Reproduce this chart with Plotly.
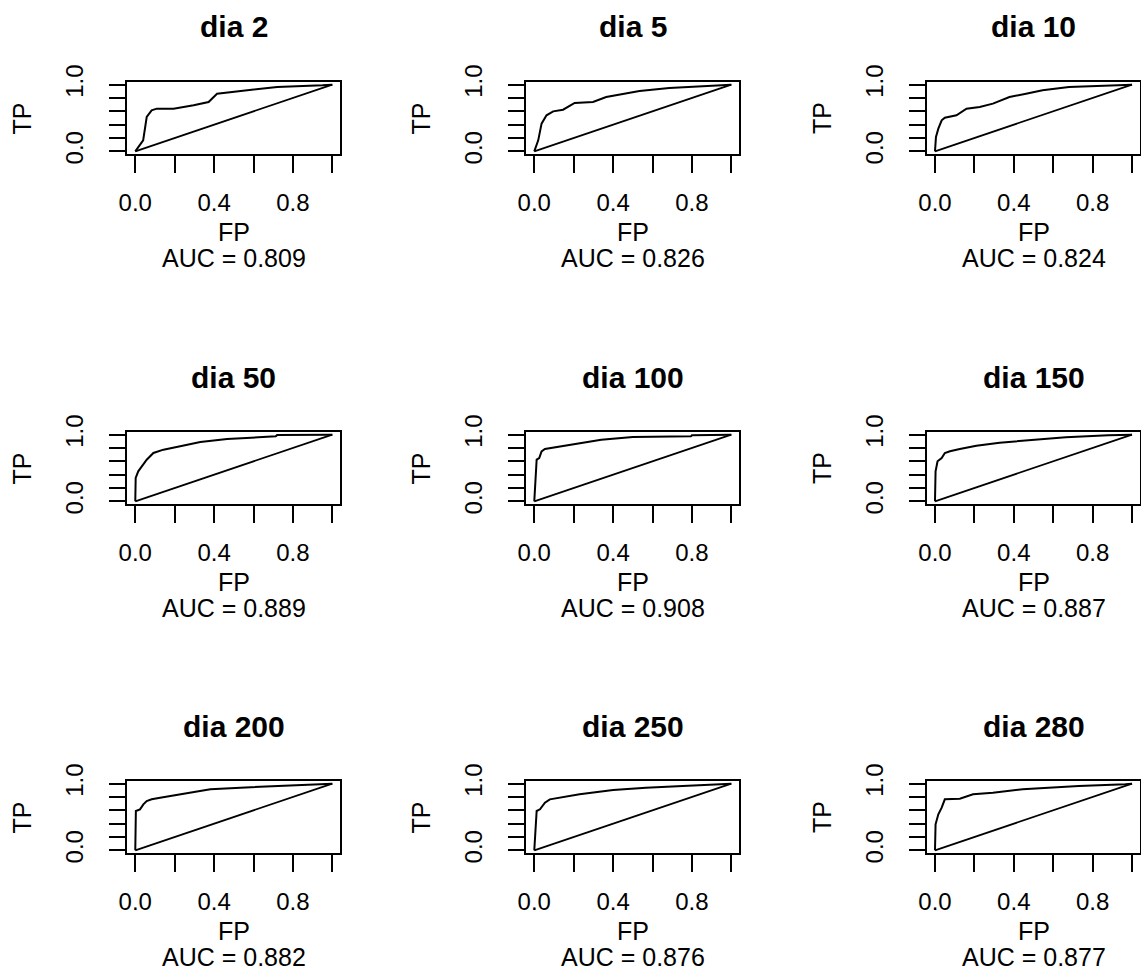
import plotly.graph_objects as go

titles = ["dia 2", "dia 5", "dia 10", "dia 50", "dia 100", "dia 150", "dia 200", "dia 250", "dia 280"]
auc = ["0.809", "0.826", "0.824", "0.889", "0.908", "0.887", "0.882", "0.876", "0.877"]

fp_d2 = [0, 0.04, 0.058, 0.083, 0.109, 0.194, 0.296, 0.372, 0.415, 0.5, 0.568, 0.72, 0.95, 1.0]
tp_d2 = [0, 0.165, 0.515, 0.615, 0.64, 0.64, 0.69, 0.74, 0.865, 0.89, 0.915, 0.965, 0.99, 1.0]

fp_d5 = [0, 0.02, 0.037, 0.062, 0.096, 0.146, 0.205, 0.298, 0.365, 0.433, 0.534, 0.685, 0.82, 1.0]
tp_d5 = [0, 0.165, 0.415, 0.54, 0.6, 0.625, 0.725, 0.74, 0.815, 0.855, 0.905, 0.95, 0.975, 1.0]

fp_d10 = [0, 0.005, 0.017, 0.034, 0.05, 0.109, 0.16, 0.227, 0.294, 0.378, 0.462, 0.546, 0.68, 0.8, 1.0]
tp_d10 = [0, 0.215, 0.34, 0.465, 0.505, 0.54, 0.64, 0.665, 0.715, 0.815, 0.865, 0.915, 0.965, 0.98, 1.0]

fp_d50 = [0, 0.002, 0.015, 0.032, 0.058, 0.092, 0.143, 0.228, 0.33, 0.466, 0.713, 0.72, 1.0]
tp_d50 = [0, 0.35, 0.45, 0.525, 0.625, 0.725, 0.775, 0.825, 0.89, 0.935, 0.975, 0.995, 1.0]

fp_d100 = [0, 0.003, 0.012, 0.025, 0.037, 0.054, 0.13, 0.23, 0.34, 0.5, 0.795, 0.8, 1.0]
tp_d100 = [0, 0.2, 0.625, 0.65, 0.75, 0.785, 0.825, 0.875, 0.925, 0.965, 0.975, 0.99, 1.0]

fp_d150 = [0, 0.003, 0.013, 0.034, 0.05, 0.076, 0.126, 0.21, 0.328, 0.496, 0.664, 0.88, 1.0]
tp_d150 = [0, 0.45, 0.6, 0.65, 0.725, 0.75, 0.785, 0.835, 0.88, 0.92, 0.96, 0.99, 1.0]

fp_d200 = [0, 0.003, 0.024, 0.041, 0.058, 0.083, 0.126, 0.194, 0.279, 0.381, 0.534, 0.721, 0.942, 1.0]
tp_d200 = [0, 0.59, 0.615, 0.69, 0.74, 0.765, 0.79, 0.825, 0.865, 0.915, 0.94, 0.965, 0.99, 1.0]

fp_d250 = [0, 0.003, 0.012, 0.029, 0.054, 0.079, 0.13, 0.23, 0.4, 0.567, 0.753, 0.92, 1.0]
tp_d250 = [0, 0.165, 0.59, 0.615, 0.715, 0.765, 0.79, 0.84, 0.905, 0.94, 0.965, 0.99, 1.0]

fp_d280 = [0, 0.003, 0.017, 0.034, 0.05, 0.126, 0.193, 0.294, 0.445, 0.58, 0.73, 0.966, 1.0]
tp_d280 = [0, 0.39, 0.54, 0.64, 0.765, 0.775, 0.84, 0.865, 0.915, 0.94, 0.965, 0.99, 1.0]

curves = [(fp_d2, tp_d2), (fp_d5, tp_d5), (fp_d10, tp_d10),
          (fp_d50, tp_d50), (fp_d100, tp_d100), (fp_d150, tp_d150),
          (fp_d200, tp_d200), (fp_d250, tp_d250), (fp_d280, tp_d280)]

diag = [0, 1]
tick_vals = [0, 0.2, 0.4, 0.6, 0.8, 1.0]
x_tick_text = ["0.0", "", "0.4", "", "0.8", ""]
y_tick_text = ["0.0", "", "", "", "", "1.0"]

W, H = 1141, 975
col_left = [127.4, 526.4, 927.1]
box_w = 212.8
row_top = [82, 432, 781]
box_h = 72

FONT = "Liberation Sans, Arial, sans-serif"

fig = go.Figure()
layout = dict(
    template="none",
    width=W, height=H, margin=dict(l=0, r=0, t=0, b=0, autoexpand=False),
    paper_bgcolor="white", plot_bgcolor="white", showlegend=False,
    font=dict(family=FONT, size=24, color="black"),
)
annotations = []
for i in range(9):
    r, c = divmod(i, 3)
    ax = "" if i == 0 else str(i + 1)
    xa, ya = "x" + ax, "y" + ax
    fx, fy = curves[i]
    fig.add_trace(go.Scatter(x=diag, y=diag, mode="lines", line=dict(color="black", width=1.8),
                             xaxis=xa, yaxis=ya, hoverinfo="skip"))
    fig.add_trace(go.Scatter(x=fx, y=fy, mode="lines", line=dict(color="black", width=2),
                             xaxis=xa, yaxis=ya))
    x0 = col_left[c]
    x1 = x0 + box_w
    top = row_top[r]
    bot = top + box_h
    common = dict(range=[-0.04, 1.04], showgrid=False, zeroline=False, showline=True,
                  linecolor="black", linewidth=2, mirror=True, ticks="outside",
                  tickcolor="black", tickwidth=2, tickvals=tick_vals, fixedrange=True,
                  automargin=False,
                  tickfont=dict(family=FONT, size=24, color="black"))
    layout["xaxis" + ax] = dict(common, domain=[x0 / W, x1 / W], anchor=ya,
                                ticktext=x_tick_text, ticklen=17, ticklabelstandoff=9)
    layout["yaxis" + ax] = dict(common, domain=[1 - bot / H, 1 - top / H], anchor=xa,
                                ticktext=y_tick_text, ticklen=16, tickangle=-90,
                                ticklabelstandoff=17)
    cx = (x0 + x1) / 2
    annotations.append(dict(text="<b>" + titles[i] + "</b>", x=cx / W, y=1 - (top - 55) / H,
                            xref="paper", yref="paper", showarrow=False,
                            xanchor="center", yanchor="middle",
                            font=dict(family=FONT, size=30, color="black")))
    annotations.append(dict(text="FP", x=cx / W, y=1 - (bot + 78) / H,
                            xref="paper", yref="paper", showarrow=False,
                            xanchor="center", yanchor="middle",
                            font=dict(family=FONT, size=25, color="black")))
    annotations.append(dict(text="AUC = " + auc[i], x=cx / W, y=1 - (bot + 104) / H,
                            xref="paper", yref="paper", showarrow=False,
                            xanchor="center", yanchor="middle",
                            font=dict(family=FONT, size=25, color="black")))
    annotations.append(dict(text="TP", x=(x0 - 105) / W, y=1 - (top + box_h / 2) / H,
                            xref="paper", yref="paper", showarrow=False, textangle=-90,
                            xanchor="center", yanchor="middle",
                            font=dict(family=FONT, size=25, color="black")))
layout["annotations"] = annotations
fig.update_layout(**layout)
fig.write_html("out.html", config={"displayModeBar": False, "staticPlot": True},
               post_script="document.body.style.margin='0';document.body.style.overflow='hidden';")
